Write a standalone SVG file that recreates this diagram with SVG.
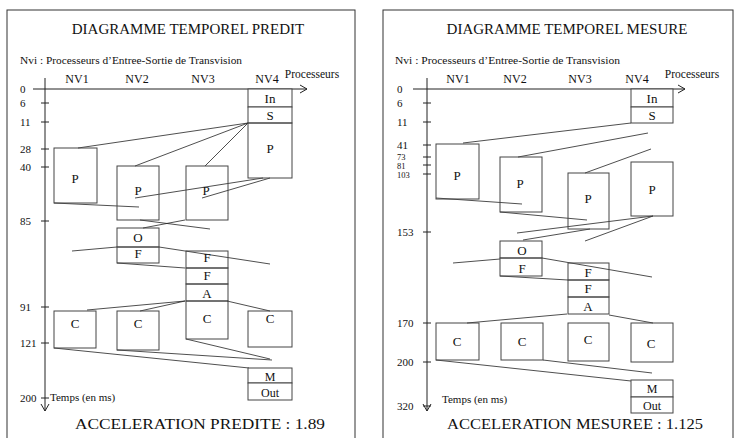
<svg xmlns="http://www.w3.org/2000/svg" width="741" height="438" viewBox="0 0 741 438">
<style>
.frame{fill:none;stroke:#333;stroke-width:1}
.box{fill:#fff;stroke:#444;stroke-width:1}
.ax{fill:none;stroke:#222;stroke-width:1}
.conn line{stroke:#222;stroke-width:0.8}
text{font-family:"Liberation Serif","Times New Roman",serif;fill:#111}
.t{font-size:15px;text-anchor:middle}
.acc{font-size:15.5px;text-anchor:middle}
.nvi{font-size:11px}
.hd{font-size:12px;text-anchor:middle}
.pr{font-size:11.5px;text-anchor:middle}
.tk{font-size:11px}
.tk2{font-size:8.5px}
.tm{font-size:11px}
.b{font-size:13px;text-anchor:middle}
.b2{font-size:12px;text-anchor:middle}
</style>
<rect width="741" height="438" fill="#fff"/>
<!-- LEFT PANEL -->
<g id="left-panel">
<rect class="frame" x="7" y="10" width="348" height="440"/>
<text class="t" x="188" y="34">DIAGRAMME TEMPOREL PREDIT</text>
<text class="nvi" x="20" y="64" textLength="222" lengthAdjust="spacingAndGlyphs">Nvi : Processeurs d’Entree-Sortie de Transvision</text>
<text class="hd" x="77" y="83">NV1</text>
<text class="hd" x="137" y="83">NV2</text>
<text class="hd" x="203" y="83">NV3</text>
<text class="hd" x="267" y="83">NV4</text>
<text class="pr" x="312" y="78">Processeurs</text>
<g id="left-axes">
<path class="ax" d="M33 89H307M300 85L307 89L300 93M45 78V411M41 404L45 411L49 404"/>
<path class="ax" d="M41 103H49M41 122H49M41 149H49M41 167H49M41 221H49M41 307H49M41 343H49M41 398H49"/>
<text class="tk" x="20" y="93">0</text>
<text class="tk" x="20" y="107">6</text>
<text class="tk" x="20" y="126">11</text>
<text class="tk" x="20" y="153">28</text>
<text class="tk" x="20" y="171">40</text>
<text class="tk" x="20" y="225">85</text>
<text class="tk" x="20" y="311">91</text>
<text class="tk" x="20" y="347">121</text>
<text class="tk" x="20" y="402">200</text>
<text class="tm" x="50" y="401">Temps (en ms)</text>
</g>
<text class="acc" x="200" y="429" textLength="250" lengthAdjust="spacingAndGlyphs">ACCELERATION PREDITE : 1.89</text>
</g>
<g id="left-connectors" class="conn">
<line x1="248" y1="123" x2="78" y2="148"/>
<line x1="248" y1="123" x2="135" y2="166"/>
<line x1="248" y1="123" x2="205" y2="166"/>
<line x1="263" y1="178" x2="135" y2="198"/>
<line x1="270" y1="178" x2="202" y2="198"/>
<line x1="54" y1="203" x2="139" y2="207"/>
<line x1="140" y1="220" x2="210" y2="229"/>
<line x1="185" y1="220" x2="143" y2="228"/>
<line x1="72" y1="251" x2="117" y2="247"/>
<line x1="159" y1="247" x2="270" y2="264"/>
<line x1="117" y1="263" x2="185" y2="268"/>
<line x1="185" y1="301" x2="87" y2="310"/>
<line x1="185" y1="301" x2="140" y2="311"/>
<line x1="227" y1="301" x2="270" y2="311"/>
<line x1="54" y1="348" x2="249" y2="368"/>
<line x1="117" y1="350" x2="272" y2="360"/>
<line x1="186" y1="339" x2="270" y2="359"/>
</g>
<g id="L-NV4-In"><rect class="box" x="248" y="89" width="44" height="18"/><text class="b" x="270" y="103">In</text></g>
<g id="L-NV4-S"><rect class="box" x="248" y="107" width="44" height="16"/><text class="b" x="270" y="120">S</text></g>
<g id="L-NV4-P"><rect class="box" x="248" y="123" width="44" height="55" fill-opacity="0"/><text class="b" x="270" y="153">P</text></g>
<g id="L-NV1-P"><rect class="box" x="54" y="148" width="43" height="55" fill-opacity="0"/><text class="b" x="75" y="183">P</text></g>
<g id="L-NV2-P"><rect class="box" x="117" y="166" width="42" height="54" fill-opacity="0"/><text class="b" x="138" y="195">P</text></g>
<g id="L-NV3-P"><rect class="box" x="186" y="166" width="42" height="54" fill-opacity="0"/><text class="b" x="206" y="195">P</text></g>
<g id="L-NV2-O"><rect class="box" x="117" y="228" width="42" height="19" fill-opacity="0"/><text class="b" x="138" y="242">O</text></g>
<g id="L-NV2-F"><rect class="box" x="117" y="247" width="42" height="16" fill-opacity="0"/><text class="b" x="138" y="258">F</text></g>
<g id="L-NV3-F1"><rect class="box" x="186" y="251" width="42" height="17" fill-opacity="0"/><text class="b" x="207" y="262">F</text></g>
<g id="L-NV3-F2"><rect class="box" x="186" y="268" width="42" height="16" fill-opacity="0"/><text class="b" x="207" y="280">F</text></g>
<g id="L-NV3-A"><rect class="box" x="186" y="284" width="42" height="17" fill-opacity="0"/><text class="b" x="207" y="298">A</text></g>
<g id="L-NV3-C"><rect class="box" x="186" y="301" width="42" height="38" fill-opacity="0"/><text class="b" x="207" y="323">C</text></g>
<g id="L-NV1-C"><rect class="box" x="54" y="311" width="42" height="37" fill-opacity="0"/><text class="b" x="75" y="328">C</text></g>
<g id="L-NV2-C"><rect class="box" x="117" y="311" width="42" height="39" fill-opacity="0"/><text class="b" x="138" y="328">C</text></g>
<g id="L-NV4-C"><rect class="box" x="248" y="311" width="44" height="36" fill-opacity="0"/><text class="b" x="270" y="323">C</text></g>
<g id="L-NV4-M"><rect class="box" x="248" y="368" width="44" height="15"/><text class="b2" x="270" y="381">M</text></g>
<g id="L-NV4-Out"><rect class="box" x="248" y="383" width="44" height="17"/><text class="b2" x="270" y="397">Out</text></g>
<!-- RIGHT PANEL -->
<g id="right-panel">
<rect class="frame" x="383" y="10" width="350" height="440"/>
<text class="t" x="567" y="34">DIAGRAMME TEMPOREL MESURE</text>
<text class="nvi" x="395" y="64" textLength="225" lengthAdjust="spacingAndGlyphs">Nvi : Processeurs d’Entree-Sortie de Transvision</text>
<text class="hd" x="458" y="83">NV1</text>
<text class="hd" x="515" y="83">NV2</text>
<text class="hd" x="580" y="83">NV3</text>
<text class="hd" x="637" y="83">NV4</text>
<text class="pr" x="692" y="78">Processeurs</text>
<g id="right-axes">
<path class="ax" d="M413 89H685M678 85L685 89L678 93M427 78V411M423 404L427 411L431 404"/>
<path class="ax" d="M423 103H431M423 122H431M423 145H431M423 157H431M423 165H431M423 174H431M423 232H431M423 323H431M423 362H431M423 406H431"/>
<text class="tk" x="397" y="93">0</text>
<text class="tk" x="397" y="107">6</text>
<text class="tk" x="397" y="126">11</text>
<text class="tk" x="397" y="149">41</text>
<text class="tk2" x="397" y="160">73</text>
<text class="tk2" x="397" y="168.5">81</text>
<text class="tk2" x="397" y="177.5">103</text>
<text class="tk" x="397" y="236">153</text>
<text class="tk" x="397" y="327">170</text>
<text class="tk" x="397" y="366">200</text>
<text class="tk" x="397" y="410">320</text>
<text class="tm" x="442" y="403">Temps (en ms)</text>
</g>
<text class="acc" x="575" y="429" textLength="256" lengthAdjust="spacingAndGlyphs">ACCELERATION MESUREE : 1.125</text>
</g>
<g id="right-connectors" class="conn">
<line x1="631" y1="123" x2="463" y2="143"/>
<line x1="648" y1="133" x2="518" y2="157"/>
<line x1="651" y1="149" x2="585" y2="173"/>
<line x1="436" y1="198" x2="522" y2="204"/>
<line x1="500" y1="212" x2="587" y2="220"/>
<line x1="653" y1="216" x2="517" y2="233"/>
<line x1="653" y1="216" x2="585" y2="241"/>
<line x1="523" y1="240" x2="590" y2="229"/>
<line x1="453" y1="263" x2="500" y2="259"/>
<line x1="542" y1="258" x2="652" y2="277"/>
<line x1="500" y1="276" x2="568" y2="280"/>
<line x1="567" y1="314" x2="467" y2="323"/>
<line x1="609" y1="315" x2="653" y2="323"/>
<line x1="436" y1="360" x2="631" y2="381"/>
<line x1="543" y1="360" x2="652" y2="373"/>
</g>
<g id="R-NV4-In"><rect class="box" x="631" y="89" width="42" height="18"/><text class="b" x="652" y="103">In</text></g>
<g id="R-NV4-S"><rect class="box" x="631" y="107" width="42" height="16"/><text class="b" x="652" y="120">S</text></g>
<g id="R-NV1-P"><rect class="box" x="436" y="144" width="43" height="55" fill-opacity="0"/><text class="b" x="457" y="180">P</text></g>
<g id="R-NV2-P"><rect class="box" x="500" y="157" width="42" height="55" fill-opacity="0"/><text class="b" x="520" y="188">P</text></g>
<g id="R-NV3-P"><rect class="box" x="568" y="173" width="41" height="56" fill-opacity="0"/><text class="b" x="588" y="203">P</text></g>
<g id="R-NV4-P"><rect class="box" x="631" y="162" width="42" height="54" fill-opacity="0"/><text class="b" x="652" y="194">P</text></g>
<g id="R-NV2-O"><rect class="box" x="500" y="241" width="42" height="17" fill-opacity="0"/><text class="b" x="522" y="255">O</text></g>
<g id="R-NV2-F"><rect class="box" x="500" y="258" width="42" height="18" fill-opacity="0"/><text class="b" x="522" y="273">F</text></g>
<g id="R-NV3-F1"><rect class="box" x="568" y="263" width="41" height="17" fill-opacity="0"/><text class="b" x="588" y="277">F</text></g>
<g id="R-NV3-F2"><rect class="box" x="568" y="280" width="41" height="17" fill-opacity="0"/><text class="b" x="588" y="293">F</text></g>
<g id="R-NV3-A"><rect class="box" x="568" y="297" width="41" height="17" fill-opacity="0"/><text class="b" x="588" y="311">A</text></g>
<g id="R-NV1-C"><rect class="box" x="436" y="323" width="43" height="37" fill-opacity="0"/><text class="b" x="457" y="346">C</text></g>
<g id="R-NV2-C"><rect class="box" x="501" y="323" width="42" height="37" fill-opacity="0"/><text class="b" x="522" y="346">C</text></g>
<g id="R-NV3-C"><rect class="box" x="568" y="323" width="41" height="38" fill-opacity="0"/><text class="b" x="588" y="344">C</text></g>
<g id="R-NV4-C"><rect class="box" x="631" y="323" width="42" height="39" fill-opacity="0"/><text class="b" x="651" y="348">C</text></g>
<g id="R-NV4-M"><rect class="box" x="631" y="380" width="42" height="17"/><text class="b2" x="652" y="393">M</text></g>
<g id="R-NV4-Out"><rect class="box" x="631" y="397" width="42" height="16"/><text class="b2" x="652" y="410">Out</text></g>
</svg>
